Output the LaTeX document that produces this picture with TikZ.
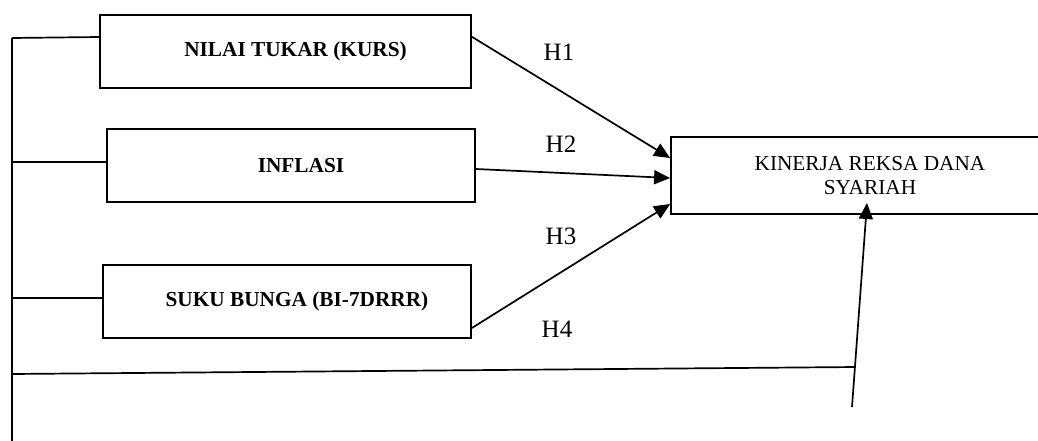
\documentclass[tikz,border=0pt]{standalone}
\usepackage{fontspec}
\setmainfont{Liberation Serif}
\usetikzlibrary{arrows.meta,calc,positioning}
\tikzset{>={Triangle[length=16pt,width=14pt]}}
\tikzset{
  varbox/.style={draw, line width=1.8pt, minimum height=73pt,
    execute at begin node=\hspace*{20pt},
    font=\fontsize{21.3}{24}\selectfont\bfseries},
  hlabel/.style={font=\fontsize{25}{28}\selectfont}
}

\begin{document}
\begin{tikzpicture}[x=1pt,y=-1pt,line width=1.7pt]
            \useasboundingbox (0,0) rectangle (1038,441);

            \node [varbox,
              minimum width=371pt
            ] (kurs) at (285.5,51.5) {NILAI TUKAR (KURS)};

            \node [varbox,
              minimum width=368pt
            ] (inflasi) at (291,165.5) {INFLASI};

            \node [varbox,
              minimum width=368pt
            ] (bunga) at (287,301.5) {SUKU BUNGA (BI-7DRRR)};

            \node [draw,
              line width=1.8pt,
              minimum width=398pt,
              minimum height=77pt,
              align=center,
              font=\fontsize{21.3}{24}\selectfont
            ] (kinerja) at (870,175.5) {KINERJA REKSA DANA\\SYARIAH};

            \node [hlabel] (h1) at (559,52) {H1};
            \node [hlabel] (h2) at (561,144) {H2};
            \node [hlabel] (h3) at (561,236) {H3};
            \node [hlabel] (h4) at (557,329) {H4};

            \coordinate (top) at (12,38);
            \coordinate (bottom) at (12,441);
            \coordinate (infleft) at (12,162);
            \coordinate (bungaleft) at (12,298);
            \coordinate (base) at (12,374);
            \coordinate (h4start) at (852,407);
            \coordinate (h4tip) at (867,203);
            \coordinate (h4join) at ($(h4start)!0.196!(h4tip)$);

            % hypotheses to the dependent variable
            \draw[->] ([yshift=14.7pt]kurs.east) -- ([yshift=17.5pt]kinerja.west);
            \draw[->] ([yshift=-3.5pt]inflasi.east) -- ([yshift=-2.5pt]kinerja.west);
            \draw[->] ([yshift=-26.5pt]bunga.east) -- ([yshift=-28.5pt]kinerja.west);
            \draw[->] (h4start) -- (h4tip);

            % joint line on the left
            \draw (top) -- (bottom);
            \draw ([yshift=14.5pt]kurs.west) -- (top);
            \draw ([yshift=3.5pt]inflasi.west) -- (infleft);
            \draw ([yshift=3.5pt]bunga.west) -- (bungaleft);
            \draw (base) -- (h4join);
          \end{tikzpicture}
\end{document}
